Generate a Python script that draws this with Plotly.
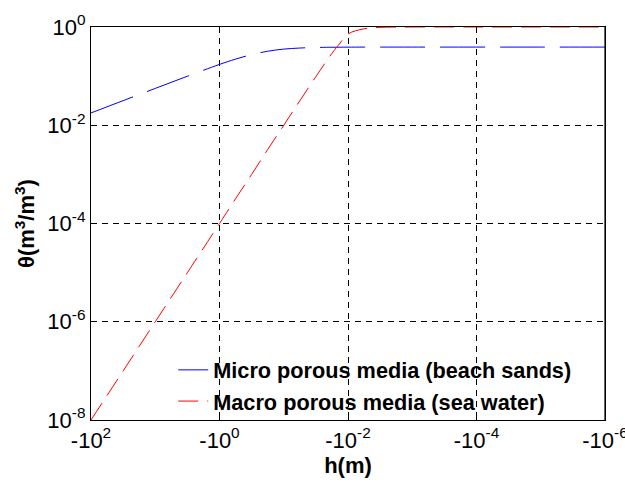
import plotly.graph_objects as go

# |h| in metres (axis shows -|h|)
h_abs = [100, 31.6, 10, 3.16, 1, 0.562, 0.316, 0.178, 0.1, 0.0562, 0.0316,
         0.0178, 0.0133, 0.01, 0.00562, 0.00316, 0.001, 1e-4, 1e-5, 1e-6]
micro = [0.0178, 0.0317, 0.0562, 0.0996, 0.173, 0.222, 0.274, 0.321, 0.355, 0.373, 0.383,
         0.387, 0.388, 0.389, 0.39, 0.39, 0.39, 0.39, 0.39, 0.39]
macro = [1e-8, 1e-7, 1e-6, 1e-5, 1e-4, 3.2e-4, 1e-3, 3.2e-3, 0.01, 0.0315, 0.098,
         0.29, 0.47, 0.72, 0.92, 0.98, 0.999, 1.0, 1.0, 1.0]

x_tickvals = [1e2, 1e0, 1e-2, 1e-4, 1e-6]
x_ticktext = ["-10<sup>2</sup>", "-10<sup>0</sup>", "-10<sup>-2</sup>", "-10<sup>-4</sup>", "-10<sup>-6</sup>"]
y_tickvals = [1e0, 1e-2, 1e-4, 1e-6, 1e-8]
y_ticktext = ["10<sup>0</sup>", "10<sup>-2</sup>", "10<sup>-4</sup>", "10<sup>-6</sup>", "10<sup>-8</sup>"]

FONT = "Liberation Sans, Arial, sans-serif"

fig = go.Figure()
fig.add_trace(go.Scatter(x=h_abs, y=micro, mode="lines", name="<b>Micro porous media (beach sands)</b>",
                         line=dict(color="rgb(0,0,255)", width=1, dash="45px,15px"), line_shape="spline"))
fig.add_trace(go.Scatter(x=h_abs, y=macro, mode="lines", name="<b>Macro porous media (sea water)</b>",
                         line=dict(color="rgb(255,0,0)", width=1, dash="20px,9px"), line_shape="spline"))

axis_common = dict(showline=True, linecolor="black", linewidth=1.2, mirror=True,
                   ticks="inside", ticklen=5, tickcolor="black",
                   showgrid=True, gridcolor="black", gridwidth=1, griddash="6px,5px",
                   zeroline=False, ticklabeloverflow="allow",
                   tickfont=dict(family=FONT, size=22, color="black"))

fig.update_xaxes(type="log", range=[2, -6], tickvals=x_tickvals, ticktext=x_ticktext,
                 title=dict(text="<b>h(m)</b>", font=dict(family=FONT, size=22, color="black"), standoff=6),
                 **axis_common)
fig.update_yaxes(type="log", range=[-8, 0], tickvals=y_tickvals, ticktext=y_ticktext,
                 title=dict(text="<b>θ(m<sup>3</sup>/m<sup>3</sup>)</b>", font=dict(family=FONT, size=22, color="black"), standoff=6),
                 **axis_common)

# plot-area frame (right edge)
fig.add_shape(type="line", xref="paper", yref="paper", x0=1, x1=1, y0=0, y1=1,
              line=dict(color="black", width=1.2), layer="above")

fig.update_layout(
    width=625, height=488,
    margin=dict(l=91, r=20, t=27, b=68, autoexpand=False),
    paper_bgcolor="white", plot_bgcolor="white",
    font=dict(family=FONT, color="black"),
    legend=dict(x=0.16, y=0.18, xanchor="left", yanchor="top",
                bgcolor="rgba(255,255,255,0)", borderwidth=0,
                font=dict(family=FONT, size=21.7, color="black"), tracegroupgap=0),
    showlegend=True,
)

# remove the default page margin so the figure fills the window exactly
fig.write_html("out.html", config={"displayModeBar": False},
               post_script="document.body.style.margin='0px';document.body.style.overflow='hidden';")
